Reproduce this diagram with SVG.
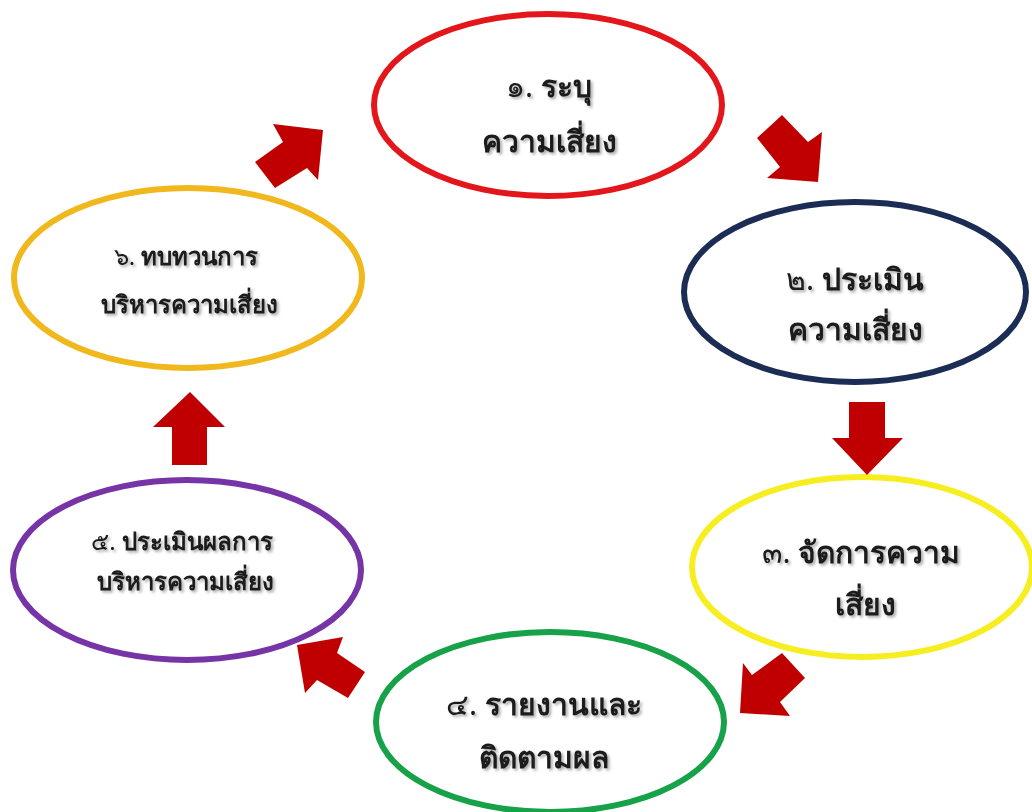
<svg xmlns="http://www.w3.org/2000/svg" width="1032" height="812" viewBox="0 0 1032 812">
<defs>
<style>
.node ellipse{fill:#ffffff;stroke-width:6}
.lbl{font-family:"Noto Sans","DejaVu Sans",sans-serif;font-weight:bold;fill:#1a1a1a;text-anchor:middle;filter:url(#sh)}
.num{font-weight:normal}
.big{font-size:30px}
.small{font-size:24px}
.arrow{fill:#c00000;stroke:none}
</style>
<filter id="sh" x="-10%" y="-30%" width="120%" height="160%">
<feGaussianBlur in="SourceAlpha" stdDeviation="1.5"/>
<feOffset dx="1.5" dy="1.5" result="b"/>
<feComponentTransfer><feFuncA type="linear" slope="0.35"/></feComponentTransfer>
<feMerge><feMergeNode/><feMergeNode in="SourceGraphic"/></feMerge>
</filter>
</defs>
<rect width="1032" height="812" fill="#ffffff"/>
<g id="n1" class="node">
<ellipse cx="548" cy="105" rx="174" ry="91" stroke="#e3161b"/>
<text class="lbl big" x="549" y="97"><tspan class="num">๑.</tspan> ระบุ</text>
<text class="lbl big" x="549" y="152">ความเสี่ยง</text>
</g>
<g id="n2" class="node">
<ellipse cx="855" cy="292" rx="171" ry="90" stroke="#1c2d55"/>
<text class="lbl big" x="855" y="290"><tspan class="num">๒.</tspan> ประเมิน</text>
<text class="lbl big" x="855" y="340">ความเสี่ยง</text>
</g>
<g id="n3" class="node">
<ellipse cx="862" cy="567" rx="170" ry="90" stroke="#f7ee22"/>
<text class="lbl big" x="861" y="563"><tspan class="num">๓.</tspan> จัดการความ</text>
<text class="lbl big" x="865" y="615">เสี่ยง</text>
</g>
<g id="n4" class="node">
<ellipse cx="550" cy="722" rx="174" ry="90" stroke="#17a24a"/>
<text class="lbl big" x="544" y="715"><tspan class="num">๔.</tspan> รายงานและ</text>
<text class="lbl big" x="544" y="768">ติดตามผล</text>
</g>
<g id="n5" class="node">
<ellipse cx="187" cy="570" rx="174" ry="90" stroke="#7634a6"/>
<text class="lbl small" x="182" y="550"><tspan class="num">๕.</tspan> ประเมินผลการ</text>
<text class="lbl small" x="185" y="590">บริหารความเสี่ยง</text>
</g>
<g id="n6" class="node">
<ellipse cx="188" cy="278" rx="174" ry="90" stroke="#f0b81c"/>
<text class="lbl small" x="186" y="265"><tspan class="num">๖.</tspan> ทบทวนการ</text>
<text class="lbl small" x="189" y="313">บริหารความเสี่ยง</text>
</g>
<g id="connectors">
<polygon class="arrow" points="323,130 273,124 283,142 255,162 275,188 307,168 318,180"/>
<polygon class="arrow" points="757,138 782,115 808,142 822,132 818,182 767,178 780,167"/>
<polygon class="arrow" points="849,402 885,402 885,438 903,438 867,475 832,438 849,438"/>
<polygon class="arrow" points="740,713 743,663 752,675 782,653 805,678 780,702 790,716"/>
<polygon class="arrow" points="297,645 343,637 337,653 365,672 348,698 317,680 305,693"/>
<polygon class="arrow" points="190,392 225,427 207,427 207,465 172,465 172,427 153,427"/>
</g>
</svg>
